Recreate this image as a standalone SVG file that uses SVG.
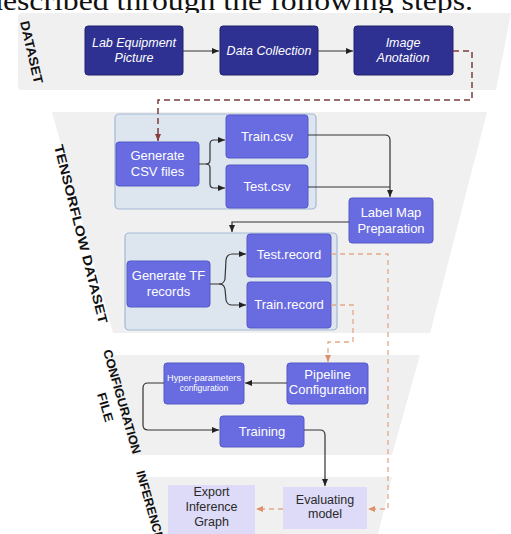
<svg xmlns="http://www.w3.org/2000/svg" width="511" height="534" viewBox="0 0 511 534">
<defs>
<style>
.band{fill:#f0f0f0}
.cont{fill:#dde6ef;stroke:#a3b8d3;stroke-width:1.2}
.dark{fill:#2e3191;stroke:#20226e;stroke-width:1}
.med{fill:#686ce0;stroke:#5458c8;stroke-width:1}
.lite{fill:#dddbf7;stroke:none}
.tw{font-family:"Liberation Sans",Arial,sans-serif;fill:#fff;text-anchor:middle}
.ti{font-style:italic;font-size:12.5px}
.tm{font-size:13px}
.td{font-family:"Liberation Sans",Arial,sans-serif;fill:#2a2a2a;text-anchor:middle;font-size:12.5px}
.lab{font-family:"Liberation Sans",Arial,sans-serif;font-weight:bold;fill:#111}
.sol{fill:none;stroke:#333;stroke-width:1.2}
.dsh{fill:none;stroke:#7a3c3c;stroke-width:1.5;stroke-dasharray:6 4}
.dor{fill:none;stroke:#e3a888;stroke-width:1.3;stroke-dasharray:5 4}
</style>
<marker id="ah" markerWidth="8" markerHeight="8" refX="7" refY="4" orient="auto" markerUnits="userSpaceOnUse">
<path d="M0,1 L7,4 L0,7 z" fill="#222"/>
</marker>
<marker id="ar" markerWidth="8" markerHeight="8" refX="7" refY="4" orient="auto" markerUnits="userSpaceOnUse">
<path d="M0,1 L7,4 L0,7 z" fill="#8a3c3c"/>
</marker>
<marker id="ao" markerWidth="8" markerHeight="8" refX="7" refY="4" orient="auto" markerUnits="userSpaceOnUse">
<path d="M0,1 L7,4 L0,7 z" fill="#e08f6c"/>
</marker>
</defs>
<rect width="511" height="534" fill="#fff"/>
<text x="-13" y="10" font-family="Liberation Serif,Times New Roman,serif" font-size="27" fill="#111" textLength="486" lengthAdjust="spacingAndGlyphs">described through the following steps.</text>

<g id="bands">
<path class="band" d="M22,13 L511,13 L496,90 L22,90 Q18,90 18,86 L18,17 Q18,13 22,13 z"/>
<polygon class="band" points="52,112 487,112 430,333 113,333"/>
<polygon class="band" points="105,355 420,355 392,455 132,455"/>
<polygon class="band" points="140,477 392,477 378,534 156,534"/>
</g>

<g id="section-labels">
<text class="lab" font-size="13" transform="translate(20,22) rotate(77)" textLength="64" lengthAdjust="spacingAndGlyphs">DATASET</text>
<text class="lab" font-size="13" transform="translate(54,146) rotate(75.8)" textLength="184" lengthAdjust="spacingAndGlyphs">TENSORFLOW DATASET</text>
<text class="lab" font-size="12.5" transform="translate(103,351) rotate(74)" textLength="108" lengthAdjust="spacingAndGlyphs">CONFIGURATION</text>
<text class="lab" font-size="12.5" transform="translate(97,394) rotate(74)" textLength="30" lengthAdjust="spacingAndGlyphs">FILE</text>
<text class="lab" font-size="12.5" transform="translate(136,472) rotate(74)" textLength="72" lengthAdjust="spacingAndGlyphs">INFERENCE</text>
</g>

<g id="containers">
<rect class="cont" x="115" y="114" width="201" height="95" rx="4"/>
<rect class="cont" x="125" y="233" width="212" height="97" rx="4"/>
</g>

<g id="lab-equipment">
<rect class="dark" x="85" y="26" width="98" height="49" rx="3"/>
<text class="tw ti" x="134" y="47">Lab Equipment</text>
<text class="tw ti" x="134" y="62">Picture</text>
</g>
<g id="data-collection">
<rect class="dark" x="220" y="26" width="98" height="49" rx="3"/>
<text class="tw ti" x="269" y="55">Data Collection</text>
</g>
<g id="image-anotation">
<rect class="dark" x="354" y="26" width="99" height="49" rx="3"/>
<text class="tw ti" x="403" y="47">Image</text>
<text class="tw ti" x="403" y="62">Anotation</text>
</g>

<g id="generate-csv">
<rect class="med" x="116" y="142" width="83" height="44" rx="3"/>
<text class="tw tm" x="157.5" y="160">Generate</text>
<text class="tw tm" x="157.5" y="176">CSV files</text>
</g>
<g id="train-csv">
<rect class="med" x="226" y="115" width="82" height="43" rx="3"/>
<text class="tw tm" x="267" y="141">Train.csv</text>
</g>
<g id="test-csv">
<rect class="med" x="226" y="165" width="82" height="43" rx="3"/>
<text class="tw tm" x="267" y="191">Test.csv</text>
</g>
<g id="label-map">
<rect class="med" x="349" y="198" width="84" height="45" rx="3"/>
<text class="tw tm" x="391" y="217">Label Map</text>
<text class="tw tm" x="391" y="233">Preparation</text>
</g>

<g id="generate-tf">
<rect class="med" x="127" y="261" width="83" height="46" rx="3"/>
<text class="tw tm" x="168.5" y="280">Generate TF</text>
<text class="tw tm" x="168.5" y="296">records</text>
</g>
<g id="test-record">
<rect class="med" x="247" y="234" width="84" height="43" rx="3"/>
<text class="tw tm" x="289" y="259">Test.record</text>
</g>
<g id="train-record">
<rect class="med" x="247" y="282" width="84" height="46" rx="3"/>
<text class="tw tm" x="289" y="309">Train.record</text>
</g>

<g id="hyper-parameters">
<rect class="med" x="164" y="363" width="80" height="41" rx="3"/>
<text class="tw" font-size="8.5" x="204" y="381" textLength="74" lengthAdjust="spacingAndGlyphs">Hyper-parameters</text>
<text class="tw" font-size="8.5" x="204" y="391">configuration</text>
</g>
<g id="pipeline">
<rect class="med" x="287" y="363" width="81" height="41" rx="3"/>
<text class="tw tm" x="327.5" y="379">Pipeline</text>
<text class="tw tm" x="327.5" y="394">Configuration</text>
</g>
<g id="training">
<rect class="med" x="220" y="416" width="84" height="31" rx="3"/>
<text class="tw tm" x="262" y="436">Training</text>
</g>

<g id="export-graph">
<rect class="lite" x="168" y="485" width="87" height="49"/>
<text class="td" x="211.5" y="496">Export</text>
<text class="td" x="211.5" y="511">Inference</text>
<text class="td" x="211.5" y="526">Graph</text>
</g>
<g id="evaluating">
<rect class="lite" x="283" y="487" width="84" height="42"/>
<text class="td" x="325" y="504">Evaluating</text>
<text class="td" x="325" y="518">model</text>
</g>

<g id="connectors">
<path class="sol" d="M183,51 L219,51" marker-end="url(#ah)"/>
<path class="sol" d="M318,51 L353,51" marker-end="url(#ah)"/>
<path class="dsh" d="M453,51 L472,51 L472,100 L158,100 L158,141" marker-end="url(#ar)"/>
<path class="sol" d="M199,164 L206,164 Q210,164 210,160 L210,144 Q210,140 214,140 L225,140" marker-end="url(#ah)"/>
<path class="sol" d="M206,164 Q210,164 210,168 L210,184 Q210,188 214,188 L225,188" marker-end="url(#ah)"/>
<path class="sol" d="M308,135 L385,135 Q390,135 390,140 L390,197" marker-end="url(#ah)"/>
<path class="sol" d="M308,187 L390,187"/>
<path class="sol" d="M349,222 L232,222 L232,232" marker-end="url(#ah)"/>
<path class="sol" d="M210,284 L219,284 Q224,284 225,279 L226,260 Q227,254 232,254 L246,254" marker-end="url(#ah)"/>
<path class="sol" d="M219,284 Q224,284 225,289 L226,300 Q227,305 232,305 L246,305" marker-end="url(#ah)"/>
<path class="dor" d="M331,254 L388,254 L388,509 L368,509" marker-end="url(#ao)"/>
<path class="dor" d="M331,305 L353,305 L353,342 L328,342 L328,362" marker-end="url(#ao)"/>
<path class="sol" d="M287,383 L245,383" marker-end="url(#ah)"/>
<path class="sol" d="M164,383 L148,383 Q143,383 143,388 L143,425 Q143,430 148,430 L219,430" marker-end="url(#ah)"/>
<path class="sol" d="M304,430 L320,430 Q325,430 325,435 L325,486" marker-end="url(#ah)"/>
<path class="dor" d="M283,509 L256,509" marker-end="url(#ao)"/>
</g>
</svg>
